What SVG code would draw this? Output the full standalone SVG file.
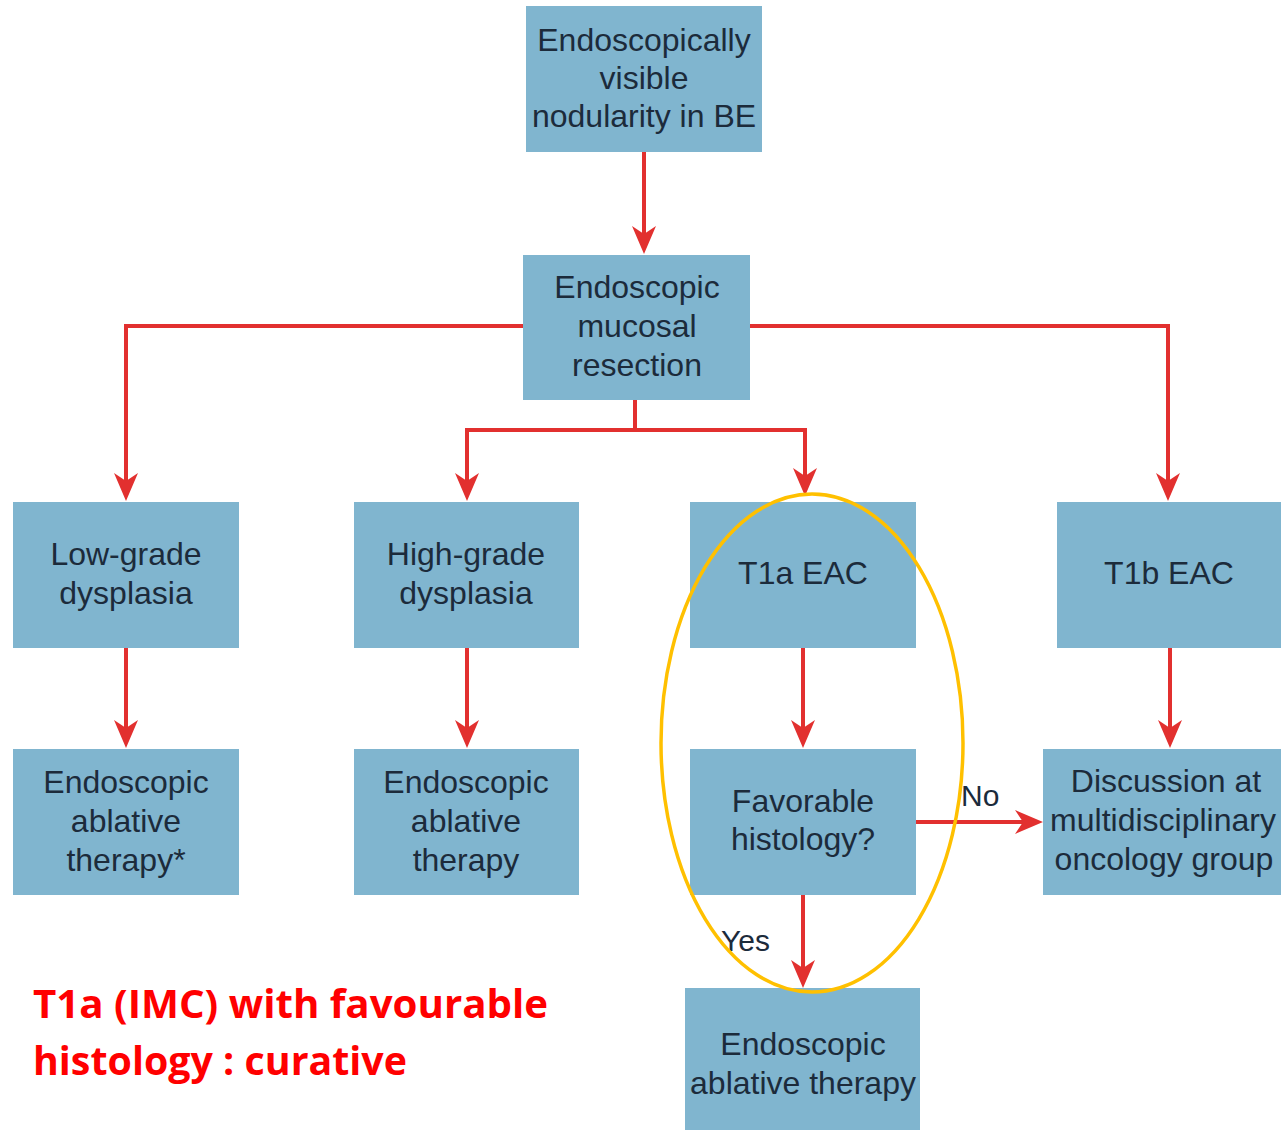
<svg xmlns="http://www.w3.org/2000/svg" width="1281" height="1130" viewBox="0 0 1281 1130">
<defs>
<marker id="ah" markerWidth="40" markerHeight="40" viewBox="-30 -20 40 40" refX="0" refY="0" orient="auto" markerUnits="userSpaceOnUse" style="overflow:visible">
<path d="M-22,-12 L6,0 L-22,12 L-14,0 Z" fill="#E2302F"/>
</marker>
<style>
.box{fill:#80B5CF}
.t{font-family:"Liberation Sans",Arial,sans-serif;font-size:32px;fill:#1C2B3B;text-anchor:middle}
.c{fill:none;stroke:#E2302F;stroke-width:4}
.lbl{font-family:"Liberation Sans",Arial,sans-serif;font-size:30px;fill:#1C2B3B}
</style>
</defs>
<rect width="1281" height="1130" fill="#FFFFFF"/>
<g id="connectors">
<path class="c" d="M644,152 V248" marker-end="url(#ah)"/>
<path class="c" d="M523,326 H126 V495" marker-end="url(#ah)"/>
<path class="c" d="M750,326 H1168 V495" marker-end="url(#ah)"/>
<path class="c" d="M635,400 V430 H467 V495" marker-end="url(#ah)"/>
<path class="c" d="M635,430 H805 V490" marker-end="url(#ah)"/>
<path class="c" d="M126,648 V742" marker-end="url(#ah)"/>
<path class="c" d="M467,648 V742" marker-end="url(#ah)"/>
<path class="c" d="M803,648 V742" marker-end="url(#ah)"/>
<path class="c" d="M1170,648 V742" marker-end="url(#ah)"/>
<path class="c" d="M916,822 H1037" marker-end="url(#ah)"/>
<path class="c" d="M803,895 V982" marker-end="url(#ah)"/>
<text class="lbl" x="961" y="806">No</text>
<text class="lbl" x="721" y="951">Yes</text>
</g>
<g id="n-top"><rect class="box" x="526" y="6" width="236" height="146"/>
<text class="t" x="644" y="51">Endoscopically</text><text class="t" x="644" y="89">visible</text><text class="t" x="644" y="127">nodularity in BE</text></g>
<g id="n-emr"><rect class="box" x="523" y="255" width="227" height="145"/>
<text class="t" x="637" y="298">Endoscopic</text><text class="t" x="637" y="337">mucosal</text><text class="t" x="637" y="376">resection</text></g>
<g id="n-lgd"><rect class="box" x="13" y="502" width="226" height="146"/>
<text class="t" x="126" y="565">Low-grade</text><text class="t" x="126" y="604">dysplasia</text></g>
<g id="n-hgd"><rect class="box" x="354" y="502" width="225" height="146"/>
<text class="t" x="466" y="565">High-grade</text><text class="t" x="466" y="604">dysplasia</text></g>
<g id="n-t1a"><rect class="box" x="690" y="502" width="226" height="146"/>
<text class="t" x="803" y="584">T1a EAC</text></g>
<g id="n-t1b"><rect class="box" x="1057" y="502" width="224" height="146"/>
<text class="t" x="1169" y="584">T1b EAC</text></g>
<g id="n-lgd-abl"><rect class="box" x="13" y="749" width="226" height="146"/>
<text class="t" x="126" y="793">Endoscopic</text><text class="t" x="126" y="832">ablative</text><text class="t" x="126" y="871">therapy*</text></g>
<g id="n-hgd-abl"><rect class="box" x="354" y="749" width="225" height="146"/>
<text class="t" x="466" y="793">Endoscopic</text><text class="t" x="466" y="832">ablative</text><text class="t" x="466" y="871">therapy</text></g>
<g id="n-fav"><rect class="box" x="690" y="749" width="226" height="146"/>
<text class="t" x="803" y="812">Favorable</text><text class="t" x="803" y="850">histology?</text></g>
<g id="n-disc"><rect class="box" x="1043" y="749" width="238" height="146"/>
<text class="t" x="1166" y="792">Discussion at</text><text class="t" x="1163" y="831" font-size="31">multidisciplinary</text><text class="t" x="1164" y="870">oncology group</text></g>
<g id="n-bottom"><rect class="box" x="685" y="988" width="235" height="142"/>
<text class="t" x="803" y="1055">Endoscopic</text><text class="t" x="803" y="1094">ablative therapy</text></g>
<g id="highlight"><ellipse cx="812" cy="743" rx="151" ry="249" fill="none" stroke="#FFC000" stroke-width="3.5"/></g>
<g id="note" font-family="'Open Sans','Liberation Sans',sans-serif" font-weight="bold" font-size="40" fill="#FF0000">
<text x="33" y="1018" textLength="515" lengthAdjust="spacingAndGlyphs">T1a (IMC) with favourable</text>
<text x="33" y="1075" textLength="374" lengthAdjust="spacingAndGlyphs">histology : curative</text>
</g>
</svg>
